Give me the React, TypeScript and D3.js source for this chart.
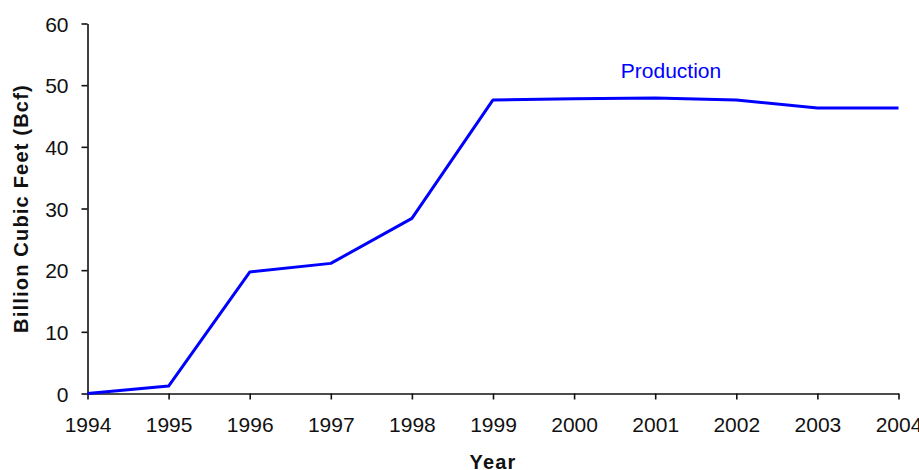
import React, { useEffect, useRef } from 'react';
import * as d3 from 'd3';

const years = [1994, 1995, 1996, 1997, 1998, 1999, 2000, 2001, 2002, 2003, 2004];
const production = [0, 1.2, 19.7, 21.1, 28.4, 47.6, 47.8, 47.9, 47.6, 46.3, 46.3];
const yTicks = [0, 10, 20, 30, 40, 50, 60];

const seriesLabel = 'Production';
const yTitle = 'Billion Cubic Feet (Bcf)';
const xTitle = 'Year';

export default function App() {
  const svgRef = useRef<SVGSVGElement>(null);

  useEffect(() => {
    const width = 919;
    const height = 470;
    const margin = { top: 23.5, right: 20.5, bottom: 76.5, left: 87.5 };
    const font = "Arial, 'Liberation Sans', sans-serif";

    const svg = d3.select(svgRef.current);
    svg.selectAll("*").remove();

    const x = d3.scaleLinear()
      .domain([1994, 2004])
      .range([margin.left, width - margin.right]);

    const y = d3.scaleLinear()
      .domain([0, 60])
      .range([height - margin.bottom, margin.top]);

    // x axis
    const xAxis = svg.append("g")
      .attr("transform", `translate(0,${y(0)})`)
      .call(d3.axisBottom(x).tickValues(years).tickFormat(d3.format("d")).tickSize(6).tickSizeOuter(0));
    xAxis.select(".domain").attr("stroke", "#111").attr("stroke-width", 1.6);
    xAxis.selectAll(".tick line").attr("stroke", "#111").attr("stroke-width", 1.6);
    xAxis.selectAll(".tick text")
      .attr("y", 38)
      .attr("dy", 0)
      .attr("fill", "#111")
      .style("font-family", font)
      .style("font-size", "21px");

    // y axis
    const yAxis = svg.append("g")
      .attr("transform", `translate(${x(1994)},0)`)
      .call(d3.axisLeft(y).tickValues(yTicks).tickSize(6).tickSizeOuter(0));
    yAxis.select(".domain").attr("stroke", "#111").attr("stroke-width", 1.6);
    yAxis.selectAll(".tick line").attr("stroke", "#111").attr("stroke-width", 1.6);
    yAxis.selectAll(".tick text")
      .attr("x", -19)
      .attr("dy", "0.36em")
      .attr("fill", "#111")
      .style("font-family", font)
      .style("font-size", "21px");

    // line
    const line = d3.line<number>()
      .x((_, i) => x(years[i]))
      .y(d => y(d));

    svg.append("path")
      .datum(production)
      .attr("fill", "none")
      .attr("stroke", "#0000ff")
      .attr("stroke-width", 3)
      .attr("stroke-linejoin", "round")
      .attr("d", line);

    svg.append("text")
      .attr("x", 671)
      .attr("y", 78)
      .attr("text-anchor", "middle")
      .attr("fill", "#0000ff")
      .style("font-family", font)
      .style("font-size", "21px")
      .text(seriesLabel);

    // axis titles
    const cy = (y(0) + y(60)) / 2;
    svg.append("text")
      .attr("transform", `translate(28,${cy}) rotate(-90)`)
      .attr("text-anchor", "middle")
      .attr("fill", "#111")
      .style("font-family", font)
      .style("font-size", "20px")
      .style("font-weight", "bold")
      .style("letter-spacing", "1.2px")
      .text(yTitle);

    svg.append("text")
      .attr("x", (x(1994) + x(2004)) / 2)
      .attr("y", 469)
      .attr("text-anchor", "middle")
      .attr("fill", "#111")
      .style("font-family", font)
      .style("font-size", "20px")
      .style("font-weight", "bold")
      .style("letter-spacing", "1.2px")
      .text(xTitle);
  }, []);

  return (
    <svg
      ref={svgRef}
      width={919}
      height={470}
      style={{ position: 'absolute', left: 0, top: 0, background: '#fff' }}
    />
  );
}
